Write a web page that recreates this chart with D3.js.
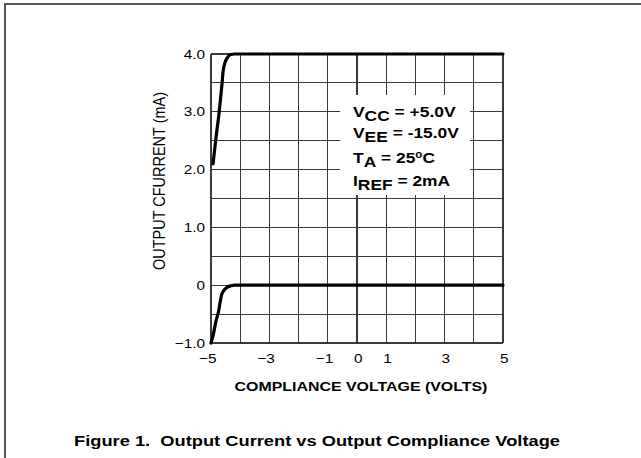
<!DOCTYPE html>
<html lang="en">
  <head>
    <meta charset="UTF-8">
    <script src="https://cdn.jsdelivr.net/npm/d3@7/dist/d3.min.js"></script>
    <title>Output Current vs Output Compliance Voltage</title>
    <style>
    body { margin: 0; background: #fff; }
    svg text { font-family: "Liberation Sans", Arial, sans-serif; }
    </style>
  </head>
  <body>
    <div id="chart"></div>
    <script>

// Data
const xTicks = [-5, -3, -1, 0, 1, 3, 5];
const xGrid = d3.range(-5, 5.01, 1);
const yTicks = [4, 3, 2, 1, 0, -1];
const yGrid = d3.range(-1, 4.01, 0.5);

// upper curve (Iout ~ 4 mA)
const upperV = [-4.93, -4.83, -4.72, -4.66, -4.62, -4.59, -4.55, -4.5, -4.42, -4.32, -4.2, 5];
const upperI = [2.1, 2.55, 3.0, 3.3, 3.5, 3.68, 3.8, 3.88, 3.95, 3.99, 4.0, 4.0];

// lower curve (Iout ~ 0 mA)
const lowerV = [-5, -4.92, -4.83, -4.74, -4.69, -4.64, -4.56, -4.46, -4.32, -4.18, 5];
const lowerI = [-1.0, -0.85, -0.62, -0.45, -0.3, -0.17, -0.09, -0.04, -0.01, 0.0, 0.0];

const legendLines = [
  ["V", "CC", " = +5.0V"],
  ["V", "EE", " = -15.0V"],
  ["T", "A", " = 25", "o", "C"],
  ["I", "REF", " = 2mA"]
];

const width = 641, height = 458;
const stretch = 1.18; // the original type is set wide

const svg = d3.select("#chart")
  .append("svg")
  .attr("width", width)
  .attr("height", height)
  .attr("viewBox", [0, 0, width, height]);

// outer frame (runs off the right / bottom edges)
svg.append("path")
  .attr("d", `M5,${height + 5}V4H${width + 5}`)
  .attr("fill", "none")
  .attr("stroke", "#555")
  .attr("stroke-width", 2);

const x = d3.scaleLinear().domain([-5, 5]).range([211, 503]);
const y = d3.scaleLinear().domain([-1, 4]).range([343, 54]);

// grid
const grid = svg.append("g")
  .attr("stroke", "#3a3a3a")
  .attr("stroke-width", 1.1)
  .attr("shape-rendering", "crispEdges");

grid.selectAll(".v")
  .data(xGrid)
  .join("line")
  .attr("x1", d => x(d)).attr("x2", d => x(d))
  .attr("y1", y(4)).attr("y2", y(-1));

grid.selectAll(".h")
  .data(yGrid)
  .join("line")
  .attr("x1", x(-5)).attr("x2", x(5))
  .attr("y1", d => y(d)).attr("y2", d => y(d));

// legend box blanks out the grid
svg.append("rect")
  .attr("x", 340).attr("y", 95)
  .attr("width", 130).attr("height", 100)
  .attr("fill", "#fff");

const legend = svg.append("g")
  .attr("font-size", 15)
  .attr("font-weight", "bold")
  .attr("fill", "#000");

const legendY = [117, 138, 163, 186];

legendLines.forEach((parts, i) => {
  const t = legend.append("text")
    .attr("transform", `translate(353,${legendY[i]}) scale(1.16,1)`);
  t.append("tspan").text(parts[0]);
  t.append("tspan").attr("dy", 4).text(parts[1]);
  t.append("tspan").attr("dy", -4).text(parts[2]);
  if (parts.length > 3) {
    t.append("tspan").attr("dy", -5).attr("font-size", 10).text(parts[3]);
    t.append("tspan").attr("dy", 5).text(parts[4]);
  }
});

// curves
const line = d3.line()
  .x(d => x(d[0]))
  .y(d => y(d[1]))
  .curve(d3.curveMonotoneX);

const curves = [
  d3.zip(upperV, upperI),
  d3.zip(lowerV, lowerI)
];

svg.selectAll(".curve")
  .data(curves)
  .join("path")
  .attr("d", line)
  .attr("fill", "none")
  .attr("stroke", "#000")
  .attr("stroke-width", 3.2)
  .attr("stroke-linecap", "round");

// tick labels
const fmtY = d => d === 0 ? "0" : (d < 0 ? "\u2212" : "") + Math.abs(d).toFixed(1);
const fmtX = d => (d < 0 ? "\u2212" : "") + Math.abs(d);

svg.append("g")
  .attr("font-size", 13)
  .attr("text-anchor", "end")
  .selectAll("text")
  .data(yTicks)
  .join("text")
  .attr("transform", d => `translate(205,${y(d)}) scale(${stretch},1)`)
  .attr("dy", "0.35em")
  .text(fmtY);

svg.append("g")
  .attr("font-size", 13)
  .attr("text-anchor", "end")
  .selectAll("text")
  .data(xTicks)
  .join("text")
  .attr("transform", d => `translate(${x(d) + 5.5},363) scale(${stretch},1)`)
  .text(fmtX);

// axis titles
svg.append("text")
  .attr("transform", `translate(165,181) scale(${stretch},1) rotate(-90)`)
  .attr("text-anchor", "middle")
  .attr("font-size", 14.5)
  .text("OUTPUT CFURRENT (mA)");

svg.append("text")
  .attr("transform", `translate(361,391) scale(${stretch},1)`)
  .attr("text-anchor", "middle")
  .attr("font-size", 13.5)
  .attr("font-weight", "bold")
  .text("COMPLIANCE VOLTAGE (VOLTS)");

// figure caption
svg.append("text")
  .attr("transform", `translate(317,446) scale(${stretch},1)`)
  .attr("text-anchor", "middle")
  .attr("font-size", 15.5)
  .attr("font-weight", "bold")
  .attr("xml:space", "preserve")
  .text("Figure 1.  Output Current vs Output Compliance Voltage");

    </script>
  </body>
</html>
